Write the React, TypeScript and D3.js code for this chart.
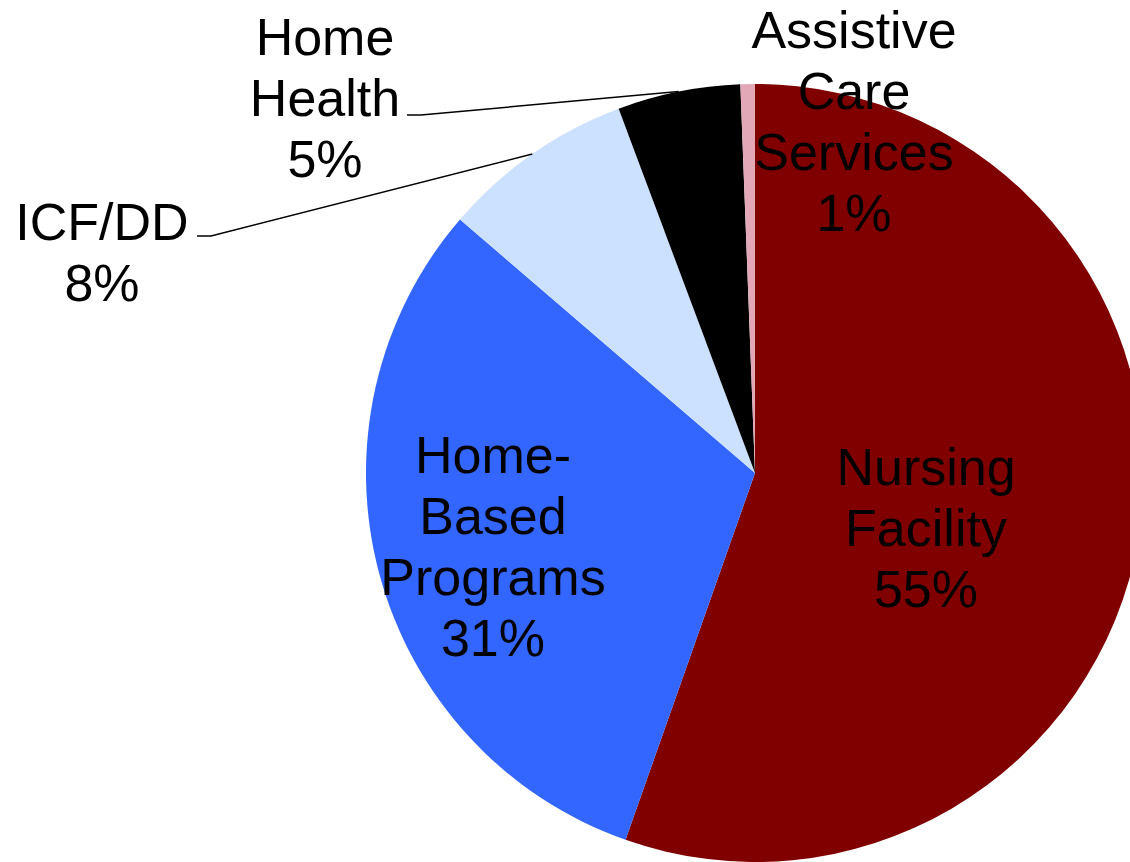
import React from "react";
import * as d3 from "d3";

const categories = ["Nursing Facility", "Home-Based Programs", "ICF/DD", "Home Health", "Assistive Care Services"];
const values = [55.4, 30.9, 8.0, 5.1, 0.6];
const colors = ["#800000", "#3366FF", "#CCE0FF", "#000000", "#E2A8B8"];
const labelLines = [
  ["Nursing", "Facility"],
  ["Home-", "Based", "Programs"],
  ["ICF/DD"],
  ["Home", "Health"],
  ["Assistive", "Care", "Services"],
];

const W = 1130;
const H = 862;
const CX = 755;
const CY = 473;
const R = 389;
const FONT = 52;
const LH = 61;

// label anchors: center x, first baseline y, and optional leader start
const labelLayout = [
  { x: 926, y: 485 },
  { x: 493, y: 473 },
  { x: 102, y: 240, leader: { x0: 197, x1: 211, y: 236 } },
  { x: 325, y: 55, leader: { x0: 407, x1: 421, y: 115 } },
  { x: 854, y: 48 },
];

export default function App() {
  const data = categories.map((c, i) => ({ c, v: values[i], i }));
  const pie = d3.pie<any>().value((d) => d.v).sort(null).startAngle(0).endAngle(2 * Math.PI);
  const arcs = pie(data);
  const arc = d3.arc<any>().innerRadius(0).outerRadius(R);
  const edge = d3.arc<any>().innerRadius(R).outerRadius(R);

  return (
    <svg width={W} height={H} style={{ position: "absolute", left: 0, top: 0 }} fontFamily="Liberation Sans, Arial, sans-serif">
      <rect width={W} height={H} fill="#fff" />
      <g transform={`translate(${CX},${CY})`}>
        {arcs.map((a, i) => (
          <path key={i} d={arc(a) as string} fill={colors[i]} />
        ))}
      </g>
      {arcs.map((a, i) => {
        const L = labelLayout[i];
        if (!L.leader) return null;
        const [ex, ey] = edge.centroid(a);
        const pts = `${L.leader.x0},${L.leader.y} ${L.leader.x1},${L.leader.y} ${CX + ex},${CY + ey}`;
        return <polyline key={"l" + i} points={pts} fill="none" stroke="#000" strokeWidth={1.5} />;
      })}
      {arcs.map((a, i) => {
        const L = labelLayout[i];
        const lines = [...labelLines[i], `${Math.round(values[i])}%`];
        return (
          <text key={"t" + i} x={L.x} y={L.y} textAnchor="middle" fontSize={FONT} fill="#000">
            {lines.map((s, k) => (
              <tspan key={k} x={L.x} y={L.y + k * LH}>
                {s}
              </tspan>
            ))}
          </text>
        );
      })}
    </svg>
  );
}
